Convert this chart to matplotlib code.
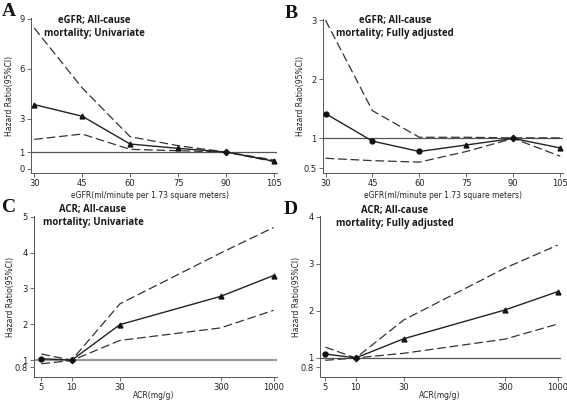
import matplotlib.pyplot as plt
import numpy as np

# eGFR panels (A, B)
egfr = [30, 45, 60, 75, 90, 105]
a_hr = [3.85, 3.15, 1.48, 1.22, 1.0, 0.45]
a_up = [8.45, 4.85, 1.92, 1.38, 1.0, 0.52]
a_lo = [1.76, 2.08, 1.16, 1.08, 1.0, 0.42]
a_mk = ['^', '^', '^', '^', 'D', '^']

b_hr = [1.42, 0.955, 0.78, 0.89, 1.0, 0.84]
b_up = [3.0, 1.47, 1.02, 1.02, 1.01, 1.01]
b_lo = [0.665, 0.625, 0.60, 0.78, 1.0, 0.70]
b_mk = ['o', 'o', 'o', '^', 'D', '^']

# ACR panels (C, D)
acr = [5, 10, 30, 300, 1000]
c_hr = [1.04, 1.0, 1.99, 2.78, 3.36]
c_up = [1.17, 1.0, 2.57, 3.99, 4.70]
c_lo = [0.90, 0.99, 1.55, 1.90, 2.39]
c_mk = ['o', 'D', '^', '^', '^']

d_hr = [1.085, 1.0, 1.41, 2.02, 2.41]
d_up = [1.23, 1.0, 1.81, 2.91, 3.40]
d_lo = [0.95, 1.0, 1.10, 1.40, 1.72]
d_mk = ['o', 'D', '^', '^', '^']

W, H = 567, 400
fig = plt.figure(figsize=(W / 100, H / 100), dpi=100)
fig.patch.set_facecolor('white')


def px_axes(left, top, right, bottom):
    return fig.add_axes([left / W, 1 - bottom / H, (right - left) / W, (bottom - top) / H])


def draw(ax, x, hr, up, lo, mk, yticks, ylim, xlim, title, title_xy, xlabel, xlab_xy, ylab_x,
         refcol, reflw, logx=False):
    if logx:
        ax.set_xscale('log')
    ax.axhline(1, color=refcol, lw=reflw, zorder=1)
    ax.plot(x, up, color='#333333', lw=0.9, dashes=(7, 3), zorder=2)
    ax.plot(x, lo, color='#333333', lw=0.9, dashes=(7, 3), zorder=2)
    ax.plot(x, hr, color='#222222', lw=1.0, zorder=3)
    for xi, yi, m in zip(x, hr, mk):
        ax.plot(xi, yi, marker=m, ms=3.5 if m != 'D' else 3.2, color='#111111', zorder=4)
    ax.set_xlim(*xlim)
    ax.set_ylim(*ylim)
    ax.set_xticks(x)
    ax.set_xticklabels([str(v) for v in x])
    ax.minorticks_off()
    ax.set_yticks(yticks)
    ax.set_yticklabels([('%g' % v) for v in yticks])
    for s in ['top', 'right']:
        ax.spines[s].set_visible(False)
    for s in ['left', 'bottom']:
        ax.spines[s].set_color('#555555')
        ax.spines[s].set_linewidth(0.7)
    ax.tick_params(length=3, width=0.6, color='#555555', labelsize=6, labelcolor='#222222', pad=1.5)
    pos = ax.get_position()
    ax.set_ylabel('Hazard Ratio(95%CI)', fontsize=5.5, color='#222222', va='center')
    ax.yaxis.set_label_coords(ylab_x / W, (pos.y0 + pos.y1) / 2, transform=fig.transFigure)
    ax.set_xlabel(xlabel, fontsize=5.5, color='#222222', va='center')
    ax.xaxis.set_label_coords(xlab_xy[0] / W, 1 - xlab_xy[1] / H, transform=fig.transFigure)
    fig.text(title_xy[0] / W, 1 - title_xy[1] / H, title, ha='center', va='top',
             fontsize=6.9, family='Open Sans', fontweight='bold', color='#1a1a1a',
             linespacing=1.25)


axA = px_axes(31, 18, 277, 173)
draw(axA, egfr, a_hr, a_up, a_lo, a_mk, [0, 1, 3, 6, 9], (-0.26, 9.05), (29, 105.9),
     'eGFR; All-cause\nmortality; Univariate', (94, 15),
     'eGFR(ml/minute per 1.73 square meters)', (150, 196), 10, '#555555', 0.9)

axB = px_axes(323, 19, 563, 173)
draw(axB, egfr, b_hr, b_up, b_lo, b_mk, [0.5, 1, 2, 3], (0.416, 3.02), (29.2, 105.9),
     'eGFR; All-cause\nmortality; Fully adjusted', (395, 15),
     'eGFR(ml/minute per 1.73 square meters)', (443, 196), 300, '#555555', 0.9)

axC = px_axes(34, 216, 277, 377)
draw(axC, acr, c_hr, c_up, c_lo, c_mk, [0.8, 1, 2, 3, 4, 5], (0.53, 5.02), (4.23, 1081),
     'ACR; All-cause\nmortality; Univariate', (93, 204),
     'ACR(mg/g)', (154, 395), 11, '#999999', 1.6, logx=True)

axD = px_axes(320, 216, 561, 377)
draw(axD, acr, d_hr, d_up, d_lo, d_mk, [0.8, 1, 2, 3, 4], (0.595, 4.02), (4.43, 1081),
     'ACR; All-cause\nmortality; Fully adjusted', (395, 205),
     'ACR(mg/g)', (440, 395), 297, '#555555', 0.9, logx=True)

for lbl, x, y in [('A', 2, 3), ('B', 285, 5), ('C', 2, 199), ('D', 284, 201)]:
    fig.text(x / W, 1 - y / H, lbl, ha='left', va='top', fontsize=14, fontweight='bold',
             family='Liberation Serif', color='#111111')

fig.savefig('out.png', dpi=100)
